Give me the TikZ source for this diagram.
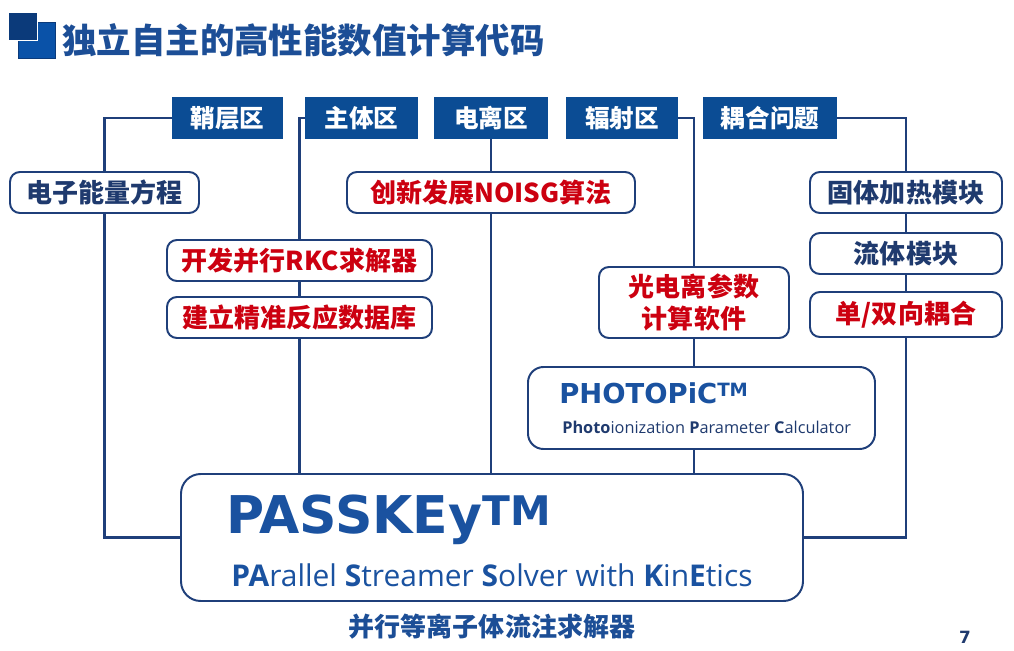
\documentclass[tikz,border=0pt]{standalone}
\usepackage{fontspec}
\setmainfont{Open Sans}
\newfontfamily\cjk{Noto Sans CJK SC}
\newfontfamily\verd{DejaVu Sans}
\usetikzlibrary{positioning, backgrounds}

\definecolor{navy}{HTML}{1F3F7A}
\definecolor{hdrblue}{HTML}{0B4C94}
\definecolor{titleblue}{HTML}{1C4E96}
\definecolor{txtblue}{HTML}{1F3A6E}
\definecolor{redtxt}{HTML}{CC0010}
\definecolor{passblue}{HTML}{1A52A0}
\definecolor{icondark}{HTML}{0B3A7A}
\definecolor{iconlight}{HTML}{0A52A8}

\newdimen\pxu \pxu=0.025cm

\begin{document}
\begin{tikzpicture}[
      x=0.025cm, y=-0.025cm,
      header/.style={rectangle, fill=hdrblue, text=white, minimum height=42\pxu, inner sep=0pt, font=\cjk\bfseries\fontsize{17.5}{20}\selectfont},
      task/.style={rectangle, draw=navy, line width=1.4pt, rounded corners=7pt, fill=white, minimum height=41\pxu, inner sep=0pt, align=center, text=txtblue, font=\cjk\bfseries\fontsize{18.5}{23}\selectfont},
      taskred/.style={task, text=redtxt},
      code/.style={rectangle, draw=navy, line width=1.4pt, rounded corners=11pt, fill=white, inner sep=0pt},
      link/.style={draw=navy, line width=2pt}
    ]
    \useasboundingbox (0,0) rectangle (1014,651);

    % title
    \fill[iconlight, draw=icondark, line width=0.4pt] (18,22) rectangle (55,58);
    \fill[icondark, draw=white, line width=0.6pt] (8,12) rectangle (37,40);
    \node[anchor=west, inner sep=0pt, text=titleblue, font=\cjk\bfseries\fontsize{24.5}{28}\selectfont] (title) at (62,40) {独立自主的高性能数值计算代码};

    % headers
    \node[header, minimum width=111\pxu] (hSheath) at (227.5,118) {鞘层区};
    \node[header, minimum width=113\pxu] (hBody) at (361.5,118) {主体区};
    \node[header, minimum width=114\pxu] (hIon) at (491,118) {电离区};
    \node[header, minimum width=112\pxu] (hRad) at (622,118) {辐射区};
    \node[header, minimum width=134\pxu] (hCoup) at (770,118) {耦合问题};

    % tasks
    \node[task, minimum width=189\pxu] (bEnergy) at (104.5,192.5) {电子能量方程};
    \node[taskred, minimum width=288\pxu] (bNoisg) at (491,192.5) {创新发展NOISG算法};
    \node[task, minimum width=192\pxu] (bSolid) at (906,192.5) {固体加热模块};
    \node[taskred, minimum width=265\pxu] (bRkc) at (299.5,260.5) {开发并行RKC求解器};
    \node[taskred, minimum width=265\pxu] (bData) at (299.5,317.5) {建立精准反应数据库};
    \node[task, minimum width=192\pxu] (bFluid) at (906,253.5) {流体模块};
    \node[taskred, minimum width=192\pxu, minimum height=45\pxu] (bCouple) at (906,314.5) {单/双向耦合};
    \node[taskred, minimum width=190\pxu, minimum height=71\pxu] (bPhoto) at (694,302.5) {光电离参数\\计算软件};

    % codes
    \node[code, minimum width=347\pxu, minimum height=82\pxu] (bPhotopic) at (701.5,408) {};
    \node[anchor=west, inner sep=0pt, text=passblue, font=\verd\bfseries\fontsize{19.5}{22}\selectfont] (tPhotopic) at (559,393)
      {PHOTOPiC\raisebox{4.8pt}{\fontsize{13}{13}\selectfont TM}};
    \node[anchor=west, inner sep=0pt, text=txtblue, font=\fontsize{11.6}{14}\selectfont] (tPhotocalc) at (562,427)
      {\textbf{Photo}ionization \textbf{P}arameter \textbf{C}alculator};

    \node[code, rounded corners=14pt, minimum width=622\pxu, minimum height=127\pxu] (bPasskey) at (492,537.5) {};
    \node[anchor=west, inner sep=0pt, text=passblue, font=\verd\bfseries\fontsize{37}{42}\selectfont] (tPasskey) at (226,520)
      {PASSKEy\raisebox{6pt}{\fontsize{29}{29}\selectfont TM}};
    \node[anchor=west, inner sep=0pt, text=passblue, font=\fontsize{21.3}{25}\selectfont] (tSolver) at (231,575)
      {\textbf{PA}rallel \textbf{S}treamer \textbf{S}olver with \textbf{K}in\textbf{E}tics};
    \node[below=0.3cm of bPasskey, inner sep=0pt, text=titleblue, font=\cjk\bfseries\fontsize{18.5}{22}\selectfont] (caption) {并行等离子体流注求解器};
    \node[inner sep=0pt, text=txtblue, font=\verd\bfseries\fontsize{12}{14}\selectfont] (page) at (965,637) {7};

    % links
    \begin{scope}[on background layer]
      \draw[link] (hSheath.west) -| (bEnergy.north) -- (bEnergy.south) |- (bPasskey.west);
      \draw[link] (hBody.west) -| (bRkc.north) -- (bData.south) -- (bData.south |- bPasskey.north);
      \draw[link] (hIon.south) -- (hIon.south |- bPasskey.north);
      \draw[link] (hRad.east) -| (bPhoto.north) -- (bPhoto.south |- bPasskey.north);
      \draw[link] (hCoup.east) -| (bSolid.north) -- (bCouple.south) |- (bPasskey.east);
    \end{scope}
  \end{tikzpicture}
\end{document}
